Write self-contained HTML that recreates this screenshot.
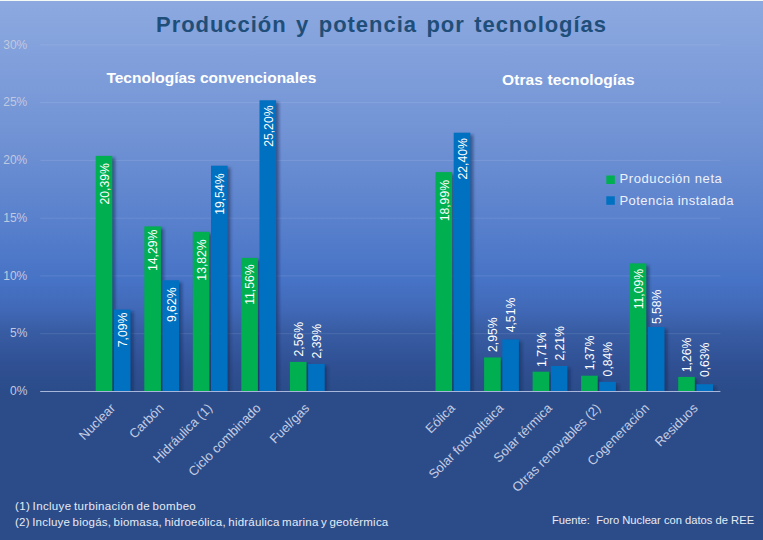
<!DOCTYPE html>
<html><head><meta charset="utf-8"><title>Producción y potencia por tecnologías</title>
<style>
html,body{margin:0;padding:0;background:#2b4c89;}
body{width:763px;height:540px;overflow:hidden;font-family:"Liberation Sans",sans-serif;}
svg{display:block;font-family:"Liberation Sans",sans-serif;}
</style></head><body>
<svg width="763" height="540" viewBox="0 0 763 540">
<defs>
<linearGradient id="bg" x1="0" y1="0" x2="0" y2="1">
<stop offset="0" stop-color="#8da9e0"/>
<stop offset="0.26" stop-color="#7092d4"/>
<stop offset="0.52" stop-color="#4773c6"/>
<stop offset="0.575" stop-color="#4068b6"/>
<stop offset="0.615" stop-color="#385ca3"/>
<stop offset="0.68" stop-color="#2f4f92"/>
<stop offset="0.725" stop-color="#2b4c89"/>
<stop offset="1" stop-color="#2b4c89"/>
</linearGradient>
<filter id="sh" x="-30%" y="-5%" width="180%" height="115%"><feGaussianBlur stdDeviation="1.6"/></filter>
</defs>
<rect width="763" height="540" fill="url(#bg)"/>
<rect width="763" height="1" fill="#f4fbf6"/>

<line x1="40.2" x2="720.4" y1="333.7" y2="333.7" stroke="#ffffff" stroke-opacity="0.10" stroke-width="1"/>
<line x1="40.2" x2="720.4" y1="275.9" y2="275.9" stroke="#ffffff" stroke-opacity="0.10" stroke-width="1"/>
<line x1="40.2" x2="720.4" y1="218.2" y2="218.2" stroke="#ffffff" stroke-opacity="0.10" stroke-width="1"/>
<line x1="40.2" x2="720.4" y1="160.4" y2="160.4" stroke="#ffffff" stroke-opacity="0.10" stroke-width="1"/>
<line x1="40.2" x2="720.4" y1="102.6" y2="102.6" stroke="#ffffff" stroke-opacity="0.10" stroke-width="1"/>
<line x1="40.2" x2="720.4" y1="44.9" y2="44.9" stroke="#ffffff" stroke-opacity="0.10" stroke-width="1"/>
<text x="27.3" y="395.2" font-size="12" fill="#c0c9e0" text-anchor="end">0%</text>
<text x="27.3" y="337.4" font-size="12" fill="#c0c9e0" text-anchor="end">5%</text>
<text x="27.3" y="279.6" font-size="12" fill="#c0c9e0" text-anchor="end">10%</text>
<text x="27.3" y="221.9" font-size="12" fill="#c0c9e0" text-anchor="end">15%</text>
<text x="27.3" y="164.1" font-size="12" fill="#c0c9e0" text-anchor="end">20%</text>
<text x="27.3" y="106.3" font-size="12" fill="#c0c9e0" text-anchor="end">25%</text>
<text x="27.3" y="48.6" font-size="12" fill="#c0c9e0" text-anchor="end">30%</text>
<clipPath id="cp"><rect x="0" y="0" width="763" height="391.0"/></clipPath><g clip-path="url(#cp)">
<rect x="98.2" y="157.9" width="17" height="235.6" fill="#1a2c55" fill-opacity="0.55" filter="url(#sh)"/>
<rect x="116.4" y="311.6" width="17" height="81.9" fill="#1a2c55" fill-opacity="0.55" filter="url(#sh)"/>
<rect x="146.8" y="228.4" width="17" height="165.1" fill="#1a2c55" fill-opacity="0.55" filter="url(#sh)"/>
<rect x="165.0" y="282.3" width="17" height="111.2" fill="#1a2c55" fill-opacity="0.55" filter="url(#sh)"/>
<rect x="195.3" y="233.8" width="17" height="159.7" fill="#1a2c55" fill-opacity="0.55" filter="url(#sh)"/>
<rect x="213.5" y="167.7" width="17" height="225.8" fill="#1a2c55" fill-opacity="0.55" filter="url(#sh)"/>
<rect x="243.8" y="259.9" width="17" height="133.6" fill="#1a2c55" fill-opacity="0.55" filter="url(#sh)"/>
<rect x="262.0" y="102.3" width="17" height="291.2" fill="#1a2c55" fill-opacity="0.55" filter="url(#sh)"/>
<rect x="292.4" y="363.9" width="17" height="29.6" fill="#1a2c55" fill-opacity="0.55" filter="url(#sh)"/>
<rect x="310.6" y="365.9" width="17" height="27.6" fill="#1a2c55" fill-opacity="0.55" filter="url(#sh)"/>
<rect x="438.0" y="174.1" width="17" height="219.4" fill="#1a2c55" fill-opacity="0.55" filter="url(#sh)"/>
<rect x="456.2" y="134.7" width="17" height="258.8" fill="#1a2c55" fill-opacity="0.55" filter="url(#sh)"/>
<rect x="486.6" y="359.4" width="17" height="34.1" fill="#1a2c55" fill-opacity="0.55" filter="url(#sh)"/>
<rect x="504.8" y="341.4" width="17" height="52.1" fill="#1a2c55" fill-opacity="0.55" filter="url(#sh)"/>
<rect x="535.1" y="373.7" width="17" height="19.8" fill="#1a2c55" fill-opacity="0.55" filter="url(#sh)"/>
<rect x="553.3" y="368.0" width="17" height="25.5" fill="#1a2c55" fill-opacity="0.55" filter="url(#sh)"/>
<rect x="583.6" y="377.7" width="17" height="15.8" fill="#1a2c55" fill-opacity="0.55" filter="url(#sh)"/>
<rect x="601.8" y="383.8" width="17" height="9.7" fill="#1a2c55" fill-opacity="0.55" filter="url(#sh)"/>
<rect x="632.2" y="265.4" width="17" height="128.1" fill="#1a2c55" fill-opacity="0.55" filter="url(#sh)"/>
<rect x="650.4" y="329.0" width="17" height="64.5" fill="#1a2c55" fill-opacity="0.55" filter="url(#sh)"/>
<rect x="680.7" y="378.9" width="17" height="14.6" fill="#1a2c55" fill-opacity="0.55" filter="url(#sh)"/>
<rect x="698.9" y="386.2" width="17" height="7.3" fill="#1a2c55" fill-opacity="0.55" filter="url(#sh)"/>
</g>
<rect x="95.7" y="155.9" width="16.6" height="235.6" fill="#00b050"/>
<rect x="113.9" y="309.6" width="16.6" height="81.9" fill="#0070c0"/>
<rect x="144.3" y="226.4" width="16.6" height="165.1" fill="#00b050"/>
<rect x="162.5" y="280.3" width="16.6" height="111.2" fill="#0070c0"/>
<rect x="192.8" y="231.8" width="16.6" height="159.7" fill="#00b050"/>
<rect x="211.0" y="165.7" width="16.6" height="225.8" fill="#0070c0"/>
<rect x="241.3" y="257.9" width="16.6" height="133.6" fill="#00b050"/>
<rect x="259.5" y="100.3" width="16.6" height="291.2" fill="#0070c0"/>
<rect x="289.9" y="361.9" width="16.6" height="29.6" fill="#00b050"/>
<rect x="308.1" y="363.9" width="16.6" height="27.6" fill="#0070c0"/>
<rect x="435.5" y="172.1" width="16.6" height="219.4" fill="#00b050"/>
<rect x="453.7" y="132.7" width="16.6" height="258.8" fill="#0070c0"/>
<rect x="484.1" y="357.4" width="16.6" height="34.1" fill="#00b050"/>
<rect x="502.3" y="339.4" width="16.6" height="52.1" fill="#0070c0"/>
<rect x="532.6" y="371.7" width="16.6" height="19.8" fill="#00b050"/>
<rect x="550.8" y="366.0" width="16.6" height="25.5" fill="#0070c0"/>
<rect x="581.1" y="375.7" width="16.6" height="15.8" fill="#00b050"/>
<rect x="599.3" y="381.8" width="16.6" height="9.7" fill="#0070c0"/>
<rect x="629.7" y="263.4" width="16.6" height="128.1" fill="#00b050"/>
<rect x="647.9" y="327.0" width="16.6" height="64.5" fill="#0070c0"/>
<rect x="678.2" y="376.9" width="16.6" height="14.6" fill="#00b050"/>
<rect x="696.4" y="384.2" width="16.6" height="7.3" fill="#0070c0"/>
<rect x="0" y="392.0" width="763" height="150" fill="#2b4a8a" fill-opacity="0"/>
<line x1="40.2" x2="720.4" y1="391.5" y2="391.5" stroke="#a8b6dc" stroke-width="1"/>
<text transform="translate(108.7,163.1) rotate(-90)" font-size="12.2" fill="#ffffff" text-anchor="end">20,39%</text>
<text transform="translate(126.9,312.6) rotate(-90)" font-size="12.2" fill="#ffffff" text-anchor="end">7,09%</text>
<text transform="translate(157.3,229.6) rotate(-90)" font-size="12.2" fill="#ffffff" text-anchor="end">14,29%</text>
<text transform="translate(175.5,287.5) rotate(-90)" font-size="12.2" fill="#ffffff" text-anchor="end">9,62%</text>
<text transform="translate(205.8,239.3) rotate(-90)" font-size="12.2" fill="#ffffff" text-anchor="end">13,82%</text>
<text transform="translate(224.0,173.5) rotate(-90)" font-size="12.2" fill="#ffffff" text-anchor="end">19,54%</text>
<text transform="translate(254.3,264.4) rotate(-90)" font-size="12.2" fill="#ffffff" text-anchor="end">11,56%</text>
<text transform="translate(272.5,105.5) rotate(-90)" font-size="12.2" fill="#ffffff" text-anchor="end">25,20%</text>
<text transform="translate(302.9,356.5) rotate(-90)" font-size="12.2" fill="#ffffff" text-anchor="start">2,56%</text>
<text transform="translate(321.1,358.5) rotate(-90)" font-size="12.2" fill="#ffffff" text-anchor="start">2,39%</text>
<text transform="translate(448.5,180.0) rotate(-90)" font-size="12.2" fill="#ffffff" text-anchor="end">18,99%</text>
<text transform="translate(466.7,138.2) rotate(-90)" font-size="12.2" fill="#ffffff" text-anchor="end">22,40%</text>
<text transform="translate(497.1,352.0) rotate(-90)" font-size="12.2" fill="#ffffff" text-anchor="start">2,95%</text>
<text transform="translate(515.3,332.3) rotate(-90)" font-size="12.2" fill="#ffffff" text-anchor="start">4,51%</text>
<text transform="translate(545.6,367.0) rotate(-90)" font-size="12.2" fill="#ffffff" text-anchor="start">1,71%</text>
<text transform="translate(563.8,360.6) rotate(-90)" font-size="12.2" fill="#ffffff" text-anchor="start">2,21%</text>
<text transform="translate(594.1,370.3) rotate(-90)" font-size="12.2" fill="#ffffff" text-anchor="start">1,37%</text>
<text transform="translate(612.3,376.4) rotate(-90)" font-size="12.2" fill="#ffffff" text-anchor="start">0,84%</text>
<text transform="translate(642.7,268.9) rotate(-90)" font-size="12.2" fill="#ffffff" text-anchor="end">11,09%</text>
<text transform="translate(660.9,324.1) rotate(-90)" font-size="12.2" fill="#ffffff" text-anchor="start">5,58%</text>
<text transform="translate(691.2,372.2) rotate(-90)" font-size="12.2" fill="#ffffff" text-anchor="start">1,26%</text>
<text transform="translate(709.4,377.1) rotate(-90)" font-size="12.2" fill="#ffffff" text-anchor="start">0,63%</text>
<text transform="translate(116.0,409.0) rotate(-45)" font-size="13" fill="#c3cbe2" text-anchor="end">Nuclear</text>
<text transform="translate(164.6,409.0) rotate(-45)" font-size="13" fill="#c3cbe2" text-anchor="end">Carbón</text>
<text transform="translate(213.1,409.0) rotate(-45)" font-size="13" fill="#c3cbe2" text-anchor="end">Hidráulica (1)</text>
<text transform="translate(261.6,409.0) rotate(-45)" font-size="13" fill="#c3cbe2" text-anchor="end">Ciclo combinado</text>
<text transform="translate(310.2,409.0) rotate(-45)" font-size="13" fill="#c3cbe2" text-anchor="end">Fuel/gas</text>
<text transform="translate(455.8,409.0) rotate(-45)" font-size="13" fill="#c3cbe2" text-anchor="end">Eólica</text>
<text transform="translate(504.4,409.0) rotate(-45)" font-size="13" fill="#c3cbe2" text-anchor="end">Solar fotovoltaica</text>
<text transform="translate(552.9,409.0) rotate(-45)" font-size="13" fill="#c3cbe2" text-anchor="end">Solar térmica</text>
<text transform="translate(601.4,409.0) rotate(-45)" font-size="13" fill="#c3cbe2" text-anchor="end">Otras renovables (2)</text>
<text transform="translate(650.0,409.0) rotate(-45)" font-size="13" fill="#c3cbe2" text-anchor="end">Cogeneración</text>
<text transform="translate(698.5,409.0) rotate(-45)" font-size="13" fill="#c3cbe2" text-anchor="end">Residuos</text>
<text x="381.5" y="32" font-size="22" font-weight="bold" fill="#1f4e79" text-anchor="middle" letter-spacing="0.96" word-spacing="2.4">Producción y potencia por tecnologías</text>
<text x="106.4" y="83.2" font-size="15.5" font-weight="bold" fill="#ffffff">Tecnologías convencionales</text>
<text x="502" y="85" font-size="15.5" font-weight="bold" fill="#ffffff" letter-spacing="0.1">Otras tecnologías</text>
<rect x="606.3" y="175.5" width="8.5" height="8.5" fill="#00b050"/><text x="619.5" y="183.3" font-size="13" fill="#eef1f8" letter-spacing="0.6">Producción neta</text>
<rect x="606.3" y="196.3" width="8.5" height="8.5" fill="#0070c0"/><text x="619.5" y="204.5" font-size="13" fill="#eef1f8" letter-spacing="0.45">Potencia instalada</text>
<text x="15" y="510" font-size="11.5" fill="#e6ebf6" letter-spacing="0.34" word-spacing="-1">(1) Incluye turbinación de bombeo</text>
<text x="15" y="526" font-size="11.5" fill="#e6ebf6" letter-spacing="0.22" word-spacing="-1">(2) Incluye biogás, biomasa, hidroeólica, hidráulica marina y geotérmica</text>
<text x="552" y="523.6" font-size="11.2" fill="#e6ebf6">Fuente:&#160; Foro Nuclear con datos de REE</text>
</svg></body></html>
